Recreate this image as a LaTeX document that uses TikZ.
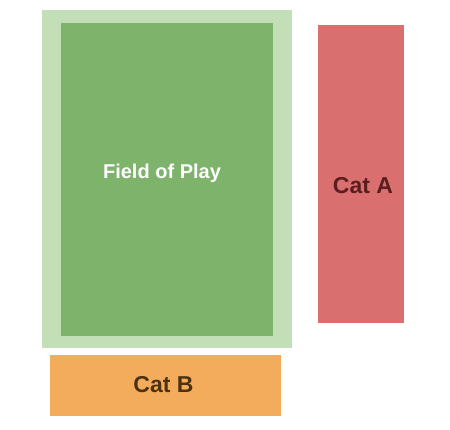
\documentclass[tikz,border=0pt]{standalone}
\usepackage{fontspec}
\setmainfont{Liberation Sans}
\usetikzlibrary{positioning}
\definecolor{FieldPale}{HTML}{C3DFB7}
\definecolor{FieldGreen}{HTML}{7DB36B}
\definecolor{CatARed}{HTML}{D9706F}
\definecolor{CatBOrange}{HTML}{F3AC5C}
\definecolor{CatAText}{HTML}{5A1E1E}
\definecolor{CatBText}{HTML}{4D3212}

\begin{document}
\begin{tikzpicture}[x=1pt, y=-1pt]
                % Frame
                \useasboundingbox (0,0) rectangle (450,429);

                % Areas
                \node[fill=FieldPale, inner sep=0pt, minimum width=250pt, minimum height=338pt, anchor=north west] (border) at (42,10) {};
                \node[fill=FieldGreen, inner sep=0pt, minimum width=212pt, minimum height=313pt, anchor=north west] (field) at (61,23) {};
                \node[fill=CatARed, inner sep=0pt, minimum width=86pt, minimum height=298pt, anchor=north west] (cata) at (318,25) {};
                \node[fill=CatBOrange, inner sep=0pt, minimum width=231pt, minimum height=61pt, anchor=north west] (catb) at (50,355) {};

                % Labels
                \node[anchor=base, font=\bfseries\fontsize{20}{24}\selectfont, text=white] (fieldlabel) at (162,178) {Field of Play};
                \node[anchor=base, font=\bfseries\fontsize{23}{27}\selectfont, text=CatAText] (catalabel) at (363,193) {Cat A};
                \node[anchor=base, font=\bfseries\fontsize{23}{27}\selectfont, text=CatBText] (catblabel) at (163.5,392) {Cat B};
\end{tikzpicture}
\end{document}
